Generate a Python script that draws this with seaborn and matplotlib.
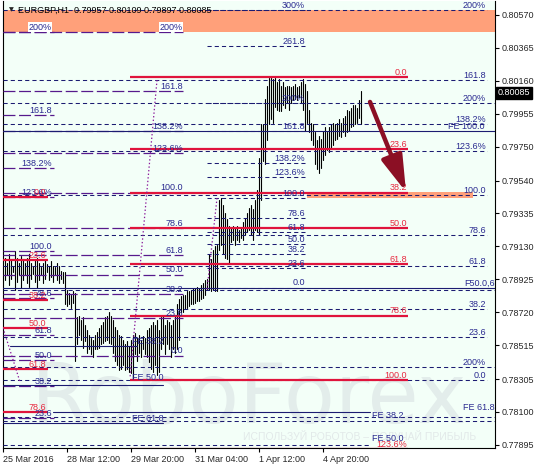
import matplotlib
matplotlib.use("Agg")
import matplotlib.pyplot as plt
import matplotlib.transforms as mtransforms
import pandas as pd
import seaborn as sns

# ---- EURGBP H1 bars (high / low), oldest first ----
bar_high = [
    0.7906, 0.7903, 0.7908, 0.7905, 0.7901, 0.7910, 0.7906, 0.7903, 0.7907, 0.7905,
    0.7903, 0.7906, 0.7908, 0.7903, 0.7901, 0.7905, 0.7906, 0.7903, 0.7900, 0.7903,
    0.7905, 0.7902, 0.7901, 0.7904, 0.7901, 0.7900, 0.7903, 0.7901, 0.7898, 0.7897,
    0.7897, 0.7886, 0.7884, 0.7883, 0.7885, 0.7884, 0.7869, 0.7870, 0.7867, 0.7869,
    0.7864, 0.7861, 0.7858, 0.7856, 0.7855, 0.7858, 0.7860, 0.7862, 0.7864, 0.7866,
    0.7869, 0.7870, 0.7872, 0.7870, 0.7867, 0.7863, 0.7861, 0.7858, 0.7857, 0.7855,
    0.7852, 0.7854, 0.7851, 0.7855, 0.7858, 0.7859, 0.7856, 0.7858, 0.7855, 0.7857,
    0.7856, 0.7861, 0.7862, 0.7864, 0.7866, 0.7864, 0.7867, 0.7861, 0.7869, 0.7870,
    0.7864, 0.7867, 0.7866, 0.7864, 0.7867, 0.7870, 0.7877, 0.7880, 0.7882, 0.7883,
    0.7883, 0.7885, 0.7885, 0.7886, 0.7887, 0.7887, 0.7888, 0.7887, 0.7889, 0.7890,
    0.7892, 0.7893, 0.7908, 0.7905, 0.7911, 0.7913, 0.7914, 0.7942, 0.7943, 0.7939,
    0.7934, 0.7930, 0.7926, 0.7925, 0.7926, 0.7925, 0.7926, 0.7923, 0.7925, 0.7928,
    0.7931, 0.7934, 0.7937, 0.7939, 0.7936, 0.7942, 0.7948, 0.7968, 0.7989, 0.7989,
    0.8005, 0.8013, 0.8018, 0.8018, 0.8017, 0.8018, 0.8015, 0.8017, 0.8013, 0.8015,
    0.8012, 0.8013, 0.8013, 0.8012, 0.8013, 0.8014, 0.8012, 0.8013, 0.8015, 0.8017,
    0.8014, 0.8010, 0.7998, 0.7990, 0.7989, 0.7984, 0.7979, 0.7982, 0.7980, 0.7985,
    0.7987, 0.7984, 0.7987, 0.7989, 0.7990, 0.7989, 0.7990, 0.7992, 0.7990, 0.7993,
    0.7994, 0.7998, 0.7997, 0.7999, 0.8001, 0.8001, 0.7999, 0.8004, 0.8010,
]
bar_low = [
    0.7892, 0.7895, 0.7889, 0.7893, 0.7897, 0.7886, 0.7891, 0.7895, 0.7887, 0.7892,
    0.7895, 0.7890, 0.7888, 0.7893, 0.7896, 0.7891, 0.7887, 0.7892, 0.7895, 0.7890,
    0.7893, 0.7897, 0.7892, 0.7894, 0.7891, 0.7895, 0.7892, 0.7890, 0.7893, 0.7890,
    0.7877, 0.7876, 0.7877, 0.7875, 0.7878, 0.7842, 0.7852, 0.7858, 0.7855, 0.7850,
    0.7854, 0.7847, 0.7849, 0.7846, 0.7844, 0.7849, 0.7849, 0.7850, 0.7852, 0.7853,
    0.7854, 0.7855, 0.7853, 0.7852, 0.7847, 0.7842, 0.7839, 0.7836, 0.7837, 0.7839,
    0.7836, 0.7837, 0.7835, 0.7834, 0.7831, 0.7846, 0.7842, 0.7847, 0.7844, 0.7849,
    0.7846, 0.7844, 0.7841, 0.7837, 0.7835, 0.7839, 0.7833, 0.7835, 0.7849, 0.7852,
    0.7846, 0.7852, 0.7849, 0.7844, 0.7849, 0.7847, 0.7849, 0.7855, 0.7872, 0.7872,
    0.7874, 0.7875, 0.7876, 0.7877, 0.7877, 0.7878, 0.7879, 0.7879, 0.7880, 0.7881,
    0.7883, 0.7886, 0.7886, 0.7885, 0.7886, 0.7885, 0.7885, 0.7911, 0.7914, 0.7908,
    0.7906, 0.7905, 0.7903, 0.7916, 0.7917, 0.7914, 0.7917, 0.7916, 0.7918, 0.7917,
    0.7920, 0.7922, 0.7923, 0.7920, 0.7917, 0.7923, 0.7922, 0.7920, 0.7942, 0.7966,
    0.7964, 0.7979, 0.7989, 0.7992, 0.7990, 0.8000, 0.7998, 0.7997, 0.7997, 0.8001,
    0.7999, 0.8002, 0.7998, 0.8002, 0.8004, 0.8005, 0.8004, 0.8006, 0.8002, 0.7998,
    0.7985, 0.7990, 0.7984, 0.7979, 0.7976, 0.7964, 0.7961, 0.7959, 0.7962, 0.7967,
    0.7970, 0.7973, 0.7972, 0.7974, 0.7976, 0.7979, 0.7980, 0.7982, 0.7981, 0.7984,
    0.7982, 0.7984, 0.7985, 0.7987, 0.7988, 0.7989, 0.7990, 0.7993, 0.7989,
]

header = "EURGBP,H1  0.79957 0.80109 0.79897 0.80085"
last_price = 0.80085

time_ticks = [-1, 31, 63, 95, 127, 159]
time_labels = ["25 Mar 2016", "28 Mar 12:00", "29 Mar 20:00",
               "31 Mar 04:00", "1 Apr 12:00", "4 Apr 20:00"]
price_ticks = [0.80570, 0.80365, 0.80160, 0.79955, 0.79750, 0.79540, 0.79335,
               0.79130, 0.78925, 0.78720, 0.78515, 0.78305, 0.78100, 0.77895]

# ---- Fibonacci objects ----
# main red retracement
retr_labels = ["0.0", "23.6", "38.2", "50.0", "61.8", "78.6", "100.0", "123.6%"]
retr_prices = [0.80184, 0.79736, 0.79463, 0.79245, 0.79021, 0.78698, 0.78299, 0.77870]
# small red retracement at the left edge
retr_left_labels = ["0.0", "23.6", "38.2", "50.0", "61.8", "78.6"]
retr_left_prices = [0.79438, 0.79046, 0.78797, 0.78623, 0.78366, 0.78100]
# expansion drawn across the whole chart
exp_right_labels = ["0.0", "23.6", "38.2", "61.8", "78.6", "100.0",
                    "123.6%", "138.2%", "161.8", "200%"]
exp_right_prices = [0.78299, 0.78567, 0.78741, 0.79008, 0.79201, 0.79450,
                    0.79724, 0.79892, 0.80165, 0.80601]
extra_labels = ["200%", "200%", "", "", ""]
extra_prices = [0.80022, 0.78378, 0.78859, 0.78069, 0.78044]
# short expansion near the breakout
exp_mid_labels = ["0.0", "23.6", "38.2", "50.0", "61.8", "78.6", "100.0",
                  "123.6%", "138.2%", "161.8", "200%", "261.8", "300%"]
exp_mid_prices = [0.78872, 0.78996, 0.79083, 0.79145, 0.79220, 0.79307, 0.79431,
                  0.79562, 0.79649, 0.79848, 0.80022, 0.80377, 0.80601]
# purple expansions on the left
exp_purple_labels = ["0.0", "23.6", "38.2", "50.0", "61.8", "78.6", "100.0",
                     "123.6%", "138.2%", "161.8", "200%"]
exp_purple_prices = [0.78449, 0.78685, 0.78834, 0.78953, 0.79077, 0.79245, 0.79463,
                     0.79711, 0.79848, 0.80097, 0.80464]
exp_edge_labels = ["23.6", "38.2", "50.0", "61.8", "78.6", "100.0",
                   "123.6%", "138.2%", "161.8", "200%"]
exp_edge_prices = [0.78063, 0.78262, 0.78424, 0.78579, 0.78809, 0.79102,
                   0.79438, 0.79618, 0.79948, 0.80464]
# solid FE lines
fe_prices = [0.79848, 0.78872, 0.78511, 0.78268, 0.78100, 0.78032, 0.77895]
fe_labels = ["FE 100.0", "F50.0,6", "FE 38.2", "FE 50.0", "FE 38.2", "FE 61.8", "FE 50.0"]

zone_top, zone_bottom = 0.80601, 0.80464
target_top, target_bottom = 0.79469, 0.79431

NAVY = "#1c1c72"
NAVY_TXT = "#2a2a90"
RED = "#e0143c"
RED_TXT = "#e8283f"
PURPLE = "#561a8c"
MAGENTA = "#8b1a9b"
BG = "#f3fff8"

sns.set_style("white")
plt.rcParams["font.family"] = ["Liberation Sans", "DejaVu Sans"]
plt.rcParams["lines.scale_dashes"] = False

fig = plt.figure(figsize=(5.36, 4.66), dpi=100)
ax = fig.add_axes([3 / 536, 18 / 466, 492 / 536, 447 / 466])
ax.set_facecolor(BG)
ax.set_xlim(-1, 245)
ax.set_ylim(0.77876, 0.80657)

SHORT = (0, (3.0, 2.2))
LONG = (0, (8.6, 2.6))


def levels(prices, labels, x0, x1, label_x, color, ls, lw, tcolor, ha="right",
           dy=0.3, boxed=None):
    for p, lab in zip(prices, labels):
        ax.plot([x0, x1], [p, p], color=color, lw=lw, ls=ls, zorder=3,
                solid_capstyle="butt")
        if lab:
            kw = {}
            if boxed is not None and p >= boxed:
                kw["bbox"] = dict(fc="white", ec="none", pad=0.3)
            ax.annotate(lab, (label_x, p), xytext=(0, dy), textcoords="offset points",
                        ha=ha, va="bottom", color=tcolor, fontsize=6.5, zorder=5,
                        annotation_clip=False, **kw)


# watermark
ax.text(0.50, 0.056, "RoboForex", transform=ax.transAxes, ha="center",
        va="baseline", fontsize=60, color="#e3edeb", zorder=0,
        family="DejaVu Sans")
ax.text(0.725, 0.025, "ИСПОЛЬЗУЙ РОБОТОВ – ПОЛУЧАЙ ПРИБЫЛЬ", transform=ax.transAxes,
        ha="center", va="center", fontsize=7.5, color="#e2e9e9", zorder=0)

# zones
ax.axhspan(zone_bottom, zone_top, color="#ffa07a", lw=0, zorder=1)
ax.fill_between([151, 234], target_bottom, target_top, color="#ffa07a", lw=0, zorder=2)

# price bars
bars = pd.DataFrame({"bar": list(range(len(bar_high))) * 2,
                     "price": bar_high + bar_low})
sns.lineplot(data=bars, x="bar", y="price", units="bar", estimator=None,
             sort=False, color="black", lw=0.8, ax=ax, zorder=2)

# Fibonacci objects
levels(exp_right_prices, exp_right_labels, -1, 241, 240.5, NAVY, SHORT, 0.75, NAVY_TXT)
levels(extra_prices, extra_labels, -1, 245, 240.5, NAVY, SHORT, 0.75, NAVY_TXT)
ax.plot([-1, 182.5], [0.77895, 0.77895], color=NAVY, lw=0.75, ls=SHORT, zorder=3)
levels(exp_mid_prices, exp_mid_labels, 101, 150, 150, NAVY, SHORT, 0.75, NAVY_TXT)
levels(exp_purple_prices, exp_purple_labels, -1, 89, 89, PURPLE, LONG, 0.9, NAVY_TXT,
       boxed=0.8045)
levels(exp_edge_prices, exp_edge_labels, -1, 24.5, 23.5, PURPLE, LONG, 0.9, NAVY_TXT,
       boxed=0.8045)

fe_spans = [(-1, 245), (-1, 245), (2.5, 66), (-1, 79), (24, 182.5), (-1, 79), (None, None)]
fe_text = [(240, "right", 0.3), (245, "right", 0.3), (63.5, "left", 0.3),
           (63.5, "left", 2.5), (183.5, "left", -5.5), (63.5, "left", 0.3),
           (183.5, "left", 1.5)]
for p, lab, (x0, x1), (tx, ha, dy) in zip(fe_prices, fe_labels, fe_spans, fe_text):
    if x0 is not None:
        ax.plot([x0, x1], [p, p], color=NAVY, lw=0.8, zorder=3)
    ax.annotate(lab, (tx, p), xytext=(0, dy), textcoords="offset points", ha=ha,
                va="bottom", color=NAVY_TXT, fontsize=6.5, zorder=5,
                annotation_clip=False)
ax.annotate("FE 61.8", (245, 0.78100), xytext=(0, 0.3), textcoords="offset points",
            ha="right", va="bottom", color=NAVY_TXT, fontsize=6.5, zorder=5)

levels(retr_prices, retr_labels, 62.5, 201.5, 201, RED, "-", 1.6, RED_TXT)
levels(retr_left_prices, retr_left_labels, -1, 21.5, 20.5, RED, "-", 1.6, RED_TXT)

# dotted trend lines
for (xa, ya), (xb, yb) in [((76, 0.80165), (62.5, 0.78312)),
                           ((106, 0.79431), (101, 0.78859)),
                           ((-1, 0.78623), (7.5, 0.78287))]:
    ax.plot([xa, xb], [ya, yb], color=MAGENTA, lw=0.9, ls=(0, (1.0, 1.6)), zorder=3)

# forecast arrow
ax.annotate("", xy=(200.5, 0.79469), xytext=(182.5, 0.80029),
            arrowprops=dict(arrowstyle="-|>,head_length=2.2,head_width=0.65",
                            lw=3.2, color="#8b0f24", shrinkA=0, shrinkB=0),
            zorder=6)

# header
ax.text(0.012, 0.980, "▼", transform=ax.transAxes, fontsize=4.5, va="center",
        ha="left", family="DejaVu Sans")
ax.text(0.030, 0.980, header, transform=ax.transAxes, fontsize=6.5, va="center",
        ha="left", color="black")

# axes styling
ax.spines["top"].set_visible(False)
for side in ["left", "right", "bottom"]:
    ax.spines[side].set_color("black")
    ax.spines[side].set_linewidth(0.8)

ax.set_xticks(time_ticks)
ax.set_xticklabels(time_labels, ha="left", fontsize=6.5)
ax.set_yticks(price_ticks)
ax.set_yticklabels([f"{p:.5f}" for p in price_ticks], fontsize=6.5)
ax.tick_params(axis="y", left=False, right=True, labelleft=False, labelright=True,
               length=3, width=0.8, pad=2, direction="out", color="black")
ax.tick_params(axis="x", bottom=True, length=3, width=0.8, pad=2, direction="out",
               color="black")
ax.set_xlabel("")
ax.set_ylabel("")

# current price tag
tr = mtransforms.blended_transform_factory(ax.transAxes, ax.transData)
ax.text(1.006, last_price, f"{last_price:.5f}", transform=tr, fontsize=6.5,
        color="white", va="center", ha="left", zorder=7,
        bbox=dict(fc="black", ec="black", pad=1.2), clip_on=False)

fig.savefig("out.png", dpi=100, facecolor="white")
